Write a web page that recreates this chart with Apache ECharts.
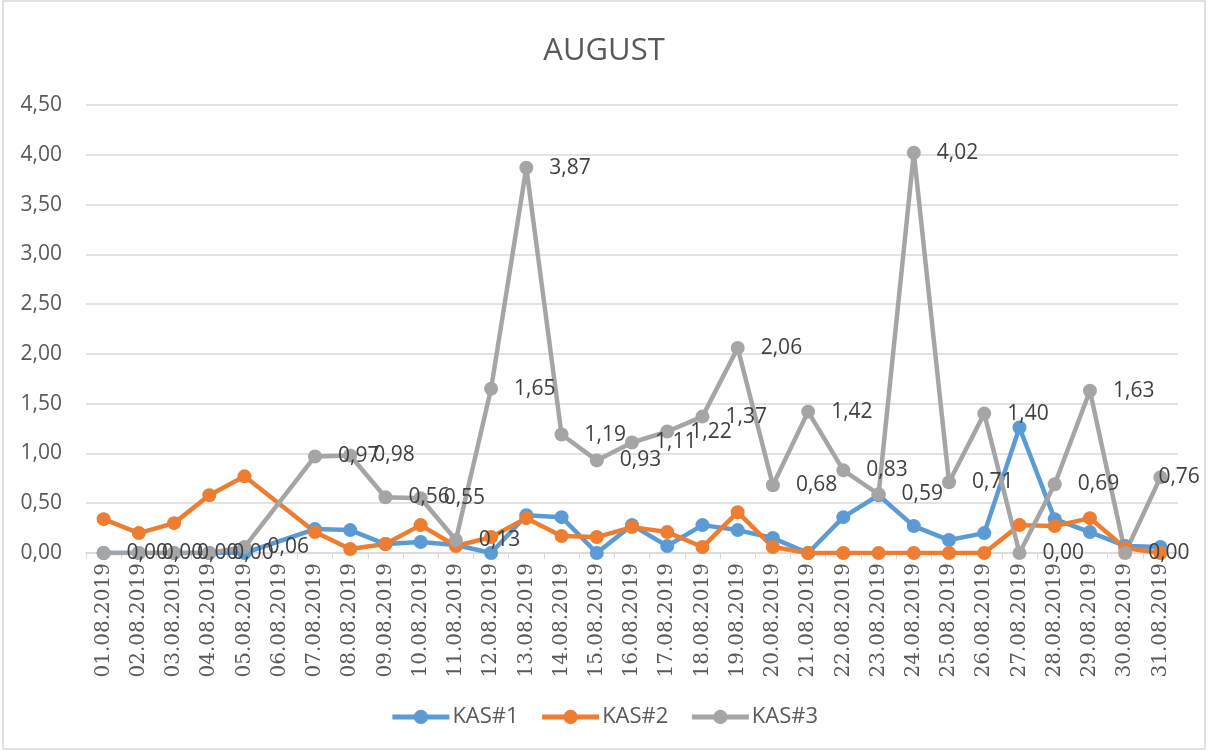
<!DOCTYPE html>
<html>
<head>
<meta charset="utf-8">
<script src="https://cdn.jsdelivr.net/npm/echarts@6/dist/echarts.min.js"></script>
<style>
  html, body { margin: 0; padding: 0; background: #fff; }
  #chart { width: 1208px; height: 751px; }
</style>
</head>
<body>
<div id="chart"></div>
<script>
// Daily readings for August 2019 (06.08 has no reading; lines bridge the gap)
const categories = [
  '01.08.2019','02.08.2019','03.08.2019','04.08.2019','05.08.2019','06.08.2019',
  '07.08.2019','08.08.2019','09.08.2019','10.08.2019','11.08.2019','12.08.2019',
  '13.08.2019','14.08.2019','15.08.2019','16.08.2019','17.08.2019','18.08.2019',
  '19.08.2019','20.08.2019','21.08.2019','22.08.2019','23.08.2019','24.08.2019',
  '25.08.2019','26.08.2019','27.08.2019','28.08.2019','29.08.2019','30.08.2019',
  '31.08.2019'
];
const kas1 = [0, 0, 0, 0, 0, null, 0.24, 0.23, 0.09, 0.11, 0.08, 0.00, 0.38, 0.36, 0.00, 0.28,
  0.07, 0.28, 0.23, 0.15, 0.00, 0.36, 0.58, 0.27, 0.13, 0.20, 1.26, 0.34, 0.21, 0.07, 0.06];
const kas2 = [0.34, 0.20, 0.30, 0.58, 0.77, null, 0.21, 0.04, 0.09, 0.28, 0.07, 0.16, 0.35, 0.17, 0.16, 0.26,
  0.21, 0.06, 0.41, 0.06, 0.00, 0.00, 0.00, 0.00, 0.00, 0.00, 0.28, 0.27, 0.35, 0.05, 0.00];
const kas3 = [0.00, 0.00, 0.00, 0.00, 0.06, null, 0.97, 0.98, 0.56, 0.55, 0.13, 1.65, 3.87, 1.19, 0.93, 1.11,
  1.22, 1.37, 2.06, 0.68, 1.42, 0.83, 0.59, 4.02, 0.71, 1.40, 0.00, 0.69, 1.63, 0.00, 0.76];
const yTicks = { min: 0, max: 4.5, step: 0.5 };

const FONT = '"Open Sans", "Liberation Sans", sans-serif';
const DATE_FONT = '"DejaVu Serif", "Liberation Serif", serif';
const comma = v => Number(v).toFixed(2).replace('.', ',');

// the last label sits over its own marker so it stays inside the chart
function withEdgeLabel(values) {
  const last = values.length - 1;
  return values.map((v, i) => i === last
    ? { value: v, label: { position: [5, '50%'], align: 'left', verticalAlign: 'middle' } }
    : v);
}

function lineSeries(name, data, color, withLabels) {
  return {
    name, type: 'line', data, connectNulls: true,
    symbol: 'circle', symbolSize: 14,
    lineStyle: { color, width: 4.5 },
    itemStyle: { color },
    label: withLabels ? {
      show: true, position: 'right', distance: 16,
      fontFamily: FONT, fontSize: 21, color: '#404040',
      formatter: p => comma(p.value)
    } : { show: false },
    emphasis: { disabled: true },
    animation: false
  };
}

const chart = echarts.init(document.getElementById('chart'), null, { renderer: 'canvas' });
chart.setOption({
  backgroundColor: '#ffffff',
  animation: false,
  title: {
    text: 'AUGUST', left: 'center', top: 31,
    textStyle: { fontFamily: FONT, fontSize: 31, fontWeight: 'normal', color: '#595959' }
  },
  graphic: [{
    type: 'rect', shape: { x: 3, y: 1, width: 1202, height: 748 },
    style: { fill: 'none', stroke: '#d9d9d9', lineWidth: 1.5 }, silent: true
  }],
  legend: {
    bottom: 18, left: 'center', itemWidth: 57, itemHeight: 18, itemGap: 21,
    lineStyle: { width: 5 },
    textStyle: { fontFamily: FONT, fontSize: 22, color: '#595959', padding: [0, 0, 0, -2] },
    data: ['KAS#1', 'KAS#2', 'KAS#3']
  },
  grid: { left: 86, right: 30, top: 105, bottom: 198, containLabel: false },
  xAxis: {
    type: 'category', data: categories, boundaryGap: true,
    axisLine: { lineStyle: { color: '#d9d9d9', width: 1.5 } },
    axisTick: { show: true, length: 6, lineStyle: { color: '#d9d9d9' } },
    axisLabel: { rotate: 90, interval: 0, margin: 10, fontFamily: DATE_FONT, fontSize: 20, color: '#595959' }
  },
  yAxis: {
    type: 'value', min: yTicks.min, max: yTicks.max, interval: yTicks.step,
    axisLine: { show: false }, axisTick: { show: false },
    splitLine: { lineStyle: { color: '#d9d9d9', width: 1.5 } },
    axisLabel: { margin: 24, fontFamily: FONT, fontSize: 21, color: '#595959', formatter: v => comma(v) }
  },
  series: [
    lineSeries('KAS#1', kas1, '#5B9BD5', false),
    lineSeries('KAS#2', kas2, '#ED7D31', false),
    lineSeries('KAS#3', withEdgeLabel(kas3), '#A5A5A5', true)
  ]
});
</script>
</body>
</html>
